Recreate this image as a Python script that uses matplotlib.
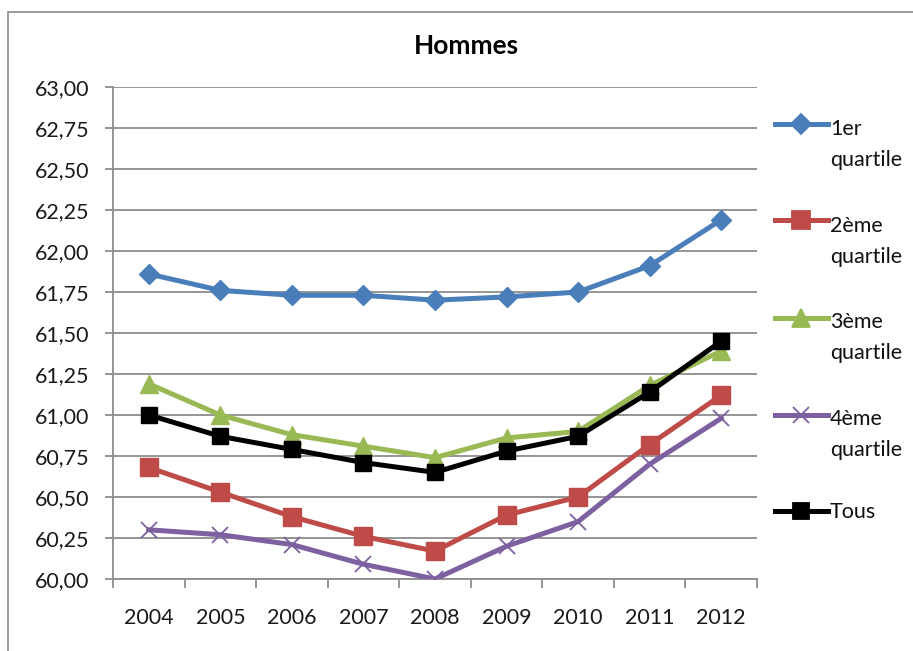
import matplotlib
matplotlib.use("Agg")
import matplotlib.pyplot as plt
from matplotlib.lines import Line2D
from matplotlib.patches import Rectangle
from matplotlib.ticker import FuncFormatter, MultipleLocator

plt.rcParams['font.family'] = ['Lato', 'DejaVu Sans']

# Données
years = ['2004', '2005', '2006', '2007', '2008', '2009', '2010', '2011', '2012']
q1 = [61.86, 61.76, 61.73, 61.73, 61.70, 61.72, 61.75, 61.91, 62.19]
q2 = [60.68, 60.53, 60.38, 60.26, 60.17, 60.39, 60.50, 60.82, 61.12]
q3 = [61.19, 61.00, 60.88, 60.81, 60.74, 60.86, 60.90, 61.18, 61.39]
q4 = [60.30, 60.27, 60.21, 60.09, 60.00, 60.20, 60.35, 60.70, 60.98]
tous = [61.00, 60.87, 60.79, 60.71, 60.65, 60.78, 60.87, 61.14, 61.45]

series_names = [('1er', 'quartile'), ('2ème', 'quartile'), ('3ème', 'quartile'),
                ('4ème', 'quartile'), ('Tous', None)]
series_values = [q1, q2, q3, q4, tous]
styles = [
    dict(color='#4A7EBB', marker='D', markersize=10.5),
    dict(color='#BE4B48', marker='s', markersize=12.5),
    dict(color='#98B954', marker='^', markersize=13),
    dict(color='#7D60A0', marker='x', markersize=12),
    dict(color='#000000', marker='s', markersize=12),
]

W, H = 913, 651
fig = plt.figure(figsize=(W / 100, H / 100), dpi=100)
fig.patches.append(Rectangle((8 / W, -0.01), 1.0, 1 - 12 / H + 0.01,
                             transform=fig.transFigure, fill=False,
                             edgecolor='#8c8c8c', lw=1.2))

ax = fig.add_axes([113 / W, 1 - 579 / H, (757 - 113) / W, (579 - 87) / H])
x = list(range(len(years)))

# ordre de tracé : Tous au-dessus
for i in [0, 2, 1, 3, 4]:
    st = styles[i]
    ax.plot(x, series_values[i], color=st['color'], lw=3.6, marker=st['marker'],
            markersize=st['markersize'], markeredgecolor=st['color'],
            markeredgewidth=1.3 if st['marker'] == 'x' else 1,
            solid_joinstyle='round', zorder=3 + i)

ax.set_xlim(-0.5, len(years) - 0.5)
ax.set_ylim(60, 63)
ax.yaxis.set_major_locator(MultipleLocator(0.25))
ax.yaxis.set_major_formatter(FuncFormatter(lambda v, p: f"{v:.2f}".replace('.', ',')))
ax.set_xticks(x)
ax.set_xticklabels(years)
ax.set_xticks([i - 0.5 for i in range(len(years) + 1)], minor=True)
ax.tick_params(axis='x', which='major', length=0, pad=21, labelsize=15.5, colors='#1a1a1a')
ax.tick_params(axis='x', which='minor', length=6.5, width=1.3, color='#8c8c8c', direction='out')
ax.tick_params(axis='y', which='major', length=6, width=1.3, color='#8c8c8c', direction='out',
               labelsize=15.5, labelcolor='#1a1a1a', pad=11)

ax.grid(axis='y', color='#8c8c8c', lw=1.3)
ax.set_axisbelow(True)
for s in ['top', 'right']:
    ax.spines[s].set_visible(False)
for s in ['left', 'bottom']:
    ax.spines[s].set_color('#8c8c8c')
    ax.spines[s].set_linewidth(1.3)

fig.text(466 / W, 1 - 46 / H, 'Hommes', ha='center', va='center',
         fontsize=19, fontweight='bold')

# Légende manuelle
handle_y = [124, 220, 318, 415, 511]
base_y = [135, 232, 328, 425, 518]
for (l1, l2), st, hy, by in zip(series_names, styles, handle_y, base_y):
    yf = 1 - hy / H
    fig.add_artist(Line2D([775 / W, 828 / W], [yf, yf], transform=fig.transFigure,
                          color=st['color'], lw=3.6))
    fig.add_artist(Line2D([801 / W], [yf], transform=fig.transFigure,
                          color=st['color'], marker=st['marker'],
                          markersize=st['markersize'], markeredgecolor=st['color'],
                          markeredgewidth=1.3, linestyle='none'))
    fig.text(830 / W, 1 - by / H, l1, ha='left', va='baseline', fontsize=15.5, color='#111111')
    if l2:
        fig.text(830 / W, 1 - (by + 31) / H, l2, ha='left', va='baseline',
                 fontsize=15.5, color='#111111')

fig.savefig('out.png', dpi=100)
